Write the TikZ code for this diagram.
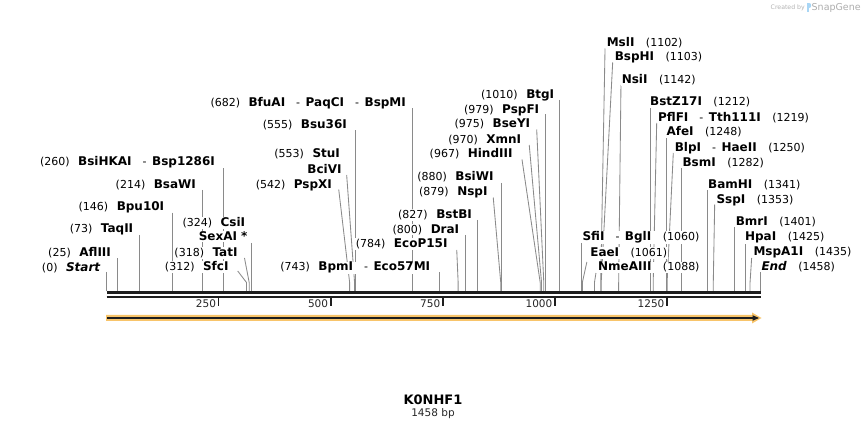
\documentclass[tikz,border=0pt]{standalone}
\usepackage{fontspec}
\setmainfont{DejaVu Sans}
\usetikzlibrary{arrows.meta}
\newcommand{\Ez}[1]{{\fontsize{12}{12}\selectfont\bfseries #1}}
\newcommand{\Gp}{\hspace{8.5pt}}
\newcommand{\Ds}{\hspace{11pt}-\hspace{5.5pt}}
\newcommand{\Gr}{\hspace{11.5pt}}
\definecolor{cutgray}{HTML}{8A8A8A}
\definecolor{bbcol}{HTML}{1E1E1E}
\definecolor{orangeband}{HTML}{F8C46A}
\definecolor{sglogo}{HTML}{A9D6F5}
\begin{document}
\begin{tikzpicture}[x=1pt,y=-1pt,
  cutline/.style={draw=cutgray, line width=0.85pt},
  lbl/.style={font=\fontsize{11}{12}\selectfont, inner sep=0.6pt, fill=white, text=black},
  lleft/.style={lbl, anchor=base east},
  lright/.style={lbl, anchor=base west},
  backbone/.style={draw=bbcol, line width=2.5pt},
  tickmark/.style={draw=bbcol, line width=1.4pt},
  ticklbl/.style={font=\fontsize{10.5}{12}\selectfont, anchor=east, inner sep=0pt, text=black!85}]
\useasboundingbox (0,0) rectangle (868,430);

% cut lines: name / dx of start from site / start y / position
\foreach \n/\dx/\ys/\p in {
  Start/0/272/0, AflIII/0/258.3/25, TaqII/0/235/73, Bpu10I/0/212.7/146,
  BsaWI/0/190/214, BsiHKAI/0/168.5/260, SexAI/0/243/324, TatI/-4.7/258/318,
  SfcI/-8.8/271/312, BfuAI/0/108.5/682, Bsu36I/0/130.5/555, BciVI/-7.9/175/553,
  PspXI/-10.9/189.5/542, BpmI/0/272.5/743, EcoPfifteen/-1.4/250/784, DraI/0/235/800,
  BstBI/0/220/827, BsiWI/0/183/880, NspI/-7.5/197.5/879, HindIII/-18.2/159.5/967,
  XmnI/-12.3/145/970, BseYI/-7.1/129.5/975, PspFI/0/114.5/979, BtgI/0/100/1010,
  MslI/4.3/48.5/1102, BspHI/11.5/62.5/1103, NsiI/2.3/85/1142, BstZ/0/107/1212,
  PflFI/3.5/123/1219, AfeI/0/137/1248, BlpI/6.2/153/1250, BsmI/0/168/1282,
  BamHI/0/190/1341, SspI/1.4/204.5/1353, BmrI/0/227/1401, HpaI/0/242.5/1425,
  MspAI/1.6/258/1435, End/0/272/1458, SfiI/0/243/1060, EaeI/4.5/262/1061,
  NmeAIII/1.5/273/1088}{
  \pgfmathsetmacro{\sx}{106.6+0.4484*\p}
  \pgfmathsetmacro{\xs}{\sx+\dx}
  \coordinate (a\n) at (\xs,\ys);
  \coordinate (b\n) at (\sx,282.5);
  \coordinate (c\n) at (\sx,291);
  \draw[cutline] (a\n) -- (b\n) -- (c\n);
}

% backbone
\coordinate (bbL1) at (106.6,292.4);
\coordinate (bbR1) at (760.6,292.4);
\coordinate (bbL2) at (106.6,297.1);
\coordinate (bbR2) at (760.6,297.1);
\draw[backbone] (bbL1) -- (bbR1);
\draw[backbone] (bbL2) -- (bbR2);

% ticks
\foreach \t in {250,500,750,1000,1250}{
  \pgfmathsetmacro{\tx}{106.6+0.4484*\t}
  \coordinate (t\t a) at (\tx,297.5);
  \coordinate (t\t b) at (\tx,306.5);
  \draw[tickmark] (t\t a) -- (t\t b);
  \node[ticklbl] (tl\t) at (\tx-2.5,303.5) {\t};
}

% feature arrow
\fill[orangeband] (106,315) -- (752,315) -- (752,312.5) -- (761.5,318) -- (752,323.5) -- (752,321) -- (106,321) -- cycle;
\coordinate (fa1) at (107,318);
\coordinate (fa2) at (754,318);
\draw[bbcol, line width=1.5pt] (fa1) -- (fa2);
\fill[bbcol] (752.5,315.2) -- (759,318) -- (752.5,320.8) -- cycle;

% left labels
\node[lleft] (LStart) at (101,271.3) {(0)\Gp\Ez{\itshape Start}};
\node[lleft] (LAflIII) at (111.7,256.6) {(25)\Gp\Ez{AflIII}};
\node[lleft] (LTaqII) at (134,232.6) {(73)\Gp\Ez{TaqII}};
\node[lleft] (LBpu) at (165,211) {(146)\Gp\Ez{Bpu10I}};
\node[lleft] (LBsaWI) at (196.7,188.6) {(214)\Gp\Ez{BsaWI}};
\node[lleft] (LBsiHKAI) at (215.7,166) {(260)\Gp\Ez{BsiHKAI}\Ds\Ez{Bsp1286I}};
\node[lleft] (LCsiI) at (246,226.6) {(324)\Gp\Ez{CsiI}};
\node[lleft] (LSexAI) at (248.3,241) {\Ez{SexAI *}};
\node[lleft] (LTatI) at (238.3,256.6) {(318)\Gp\Ez{TatI}};
\node[lleft] (LSfcI) at (229.3,271) {(312)\Gp\Ez{SfcI}};
\node[lleft] (LBfuAI) at (406.7,106.6) {(682)\Gp\Ez{BfuAI}\Ds\Ez{PaqCI}\Ds\Ez{BspMI}};
\node[lleft] (LBsu) at (347.7,128.3) {(555)\Gp\Ez{Bsu36I}};
\node[lleft] (LStuI) at (340.7,157.6) {(553)\Gp\Ez{StuI}};
\node[lleft] (LBciVI) at (342.3,173.3) {\Ez{BciVI}};
\node[lleft] (LPspXI) at (332.7,188.3) {(542)\Gp\Ez{PspXI}};
\node[lleft] (LBpmI) at (431,271) {(743)\Gp\Ez{BpmI}\Ds\Ez{Eco57MI}};
\node[lleft] (LEcoP) at (448.3,247.8) {(784)\Gp\Ez{EcoP15I}};
\node[lleft] (LDraI) at (460,233.3) {(800)\Gp\Ez{DraI}};
\node[lleft] (LBstBI) at (472.7,218.6) {(827)\Gp\Ez{BstBI}};
\node[lleft] (LBsiWI) at (494.3,181) {(880)\Gp\Ez{BsiWI}};
\node[lleft] (LNspI) at (488.3,196) {(879)\Gp\Ez{NspI}};
\node[lleft] (LHind) at (513.3,157.6) {(967)\Gp\Ez{HindIII}};
\node[lleft] (LXmnI) at (522,143.3) {(970)\Gp\Ez{XmnI}};
\node[lleft] (LBseYI) at (531,127.6) {(975)\Gp\Ez{BseYI}};
\node[lleft] (LPspFI) at (540,113.3) {(979)\Gp\Ez{PspFI}};
\node[lleft] (LBtgI) at (555,98.3) {(1010)\Gp\Ez{BtgI}};

% right labels
\node[lright] (RMslI) at (606,47) {\Ez{MslI}\Gr(1102)};
\node[lright] (RBspHI) at (614,61) {\Ez{BspHI}\Gr(1103)};
\node[lright] (RNsiI) at (621,83.6) {\Ez{NsiI}\Gr(1142)};
\node[lright] (RBstZ) at (649.3,106) {\Ez{BstZ17I}\Gr(1212)};
\node[lright] (RPflFI) at (657.3,121.6) {\Ez{PflFI}\Ds\Ez{Tth111I}\Gr(1219)};
\node[lright] (RAfeI) at (665.7,136) {\Ez{AfeI}\Gr(1248)};
\node[lright] (RBlpI) at (674,151.6) {\Ez{BlpI}\Ds\Ez{HaeII}\Gr(1250)};
\node[lright] (RBsmI) at (681.7,166.6) {\Ez{BsmI}\Gr(1282)};
\node[lright] (RBamHI) at (707.3,188.3) {\Ez{BamHI}\Gr(1341)};
\node[lright] (RSspI) at (715.7,203.3) {\Ez{SspI}\Gr(1353)};
\node[lright] (RBmrI) at (735,226) {\Ez{BmrI}\Gr(1401)};
\node[lright] (RHpaI) at (744.3,241) {\Ez{HpaI}\Gr(1425)};
\node[lright] (RMspA) at (752.7,256) {\Ez{MspA1I}\Gr(1435)};
\node[lright] (REnd) at (760.7,271) {\Ez{\itshape End}\Gr(1458)};
\node[lright] (RSfiI) at (581.7,241) {\Ez{SfiI}\Ds\Ez{BglI}\Gr(1060)};
\node[lright] (REaeI) at (589.5,256.6) {\Ez{EaeI}\Gr(1061)};
\node[lright] (RNme) at (597.3,271) {\Ez{NmeAIII}\Gr(1088)};

% title
\node[font=\fontsize{13}{14}\selectfont\bfseries, inner sep=0pt] (title) at (433,399.3) {K0NHF1};
\node[font=\fontsize{10.5}{12}\selectfont, inner sep=0pt, text=black!85] (len) at (433,413.5) {1458 bp};

% watermark
\node[font=\fontsize{6.2}{7}\selectfont, text=black!30, anchor=east, inner sep=0pt] (cb) at (805,7.5) {Created by};
\fill[sglogo] (807,3) rectangle (808.8,12.5);
\fill[sglogo] (808.8,3) .. controls (811.5,3) and (811.5,8) .. (808.8,8) -- cycle;
\node[font=\fontsize{9.5}{10}\selectfont, text=black!32, anchor=west, inner sep=0pt] (sg) at (811.5,7.5) {SnapGene};
\end{tikzpicture}
\end{document}
